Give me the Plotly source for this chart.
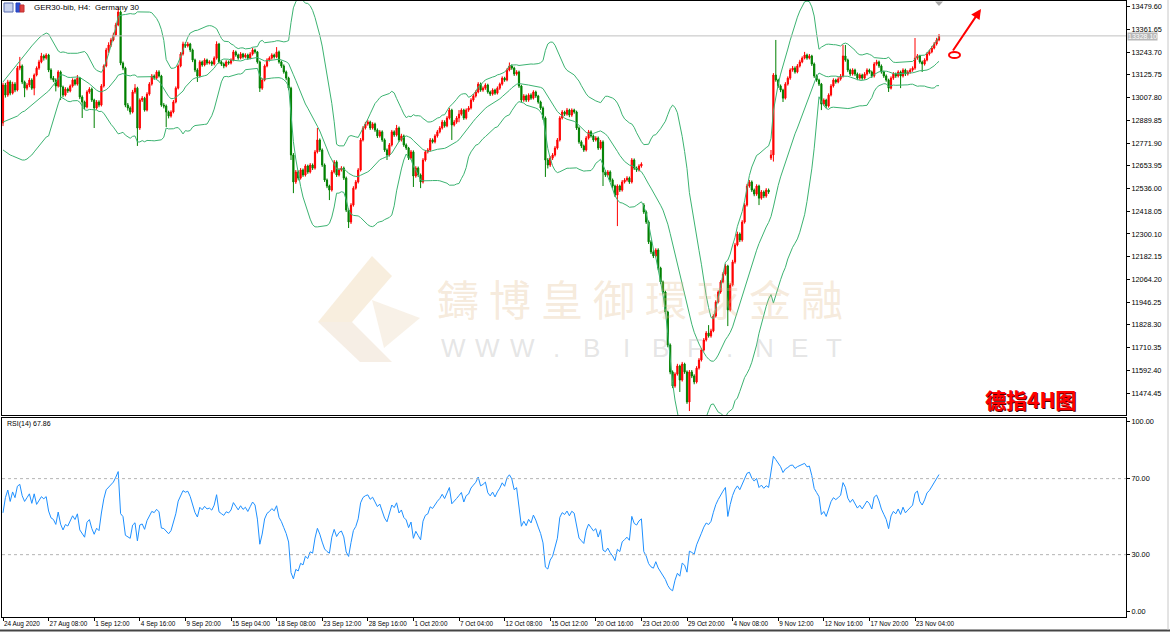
import numpy as np
import pandas as pd
import plotly.graph_objects as go

# ---------------- data (GER30 H4 candles) ----------------
opens = [
12876,13073,13021,13089,13031,13078,13047,13161,13172,13089,
13057,13073,13099,13057,13125,13161,13193,13224,13213,13229,
13151,13109,13099,13068,13141,13063,13021,13052,13042,13068,
13099,13078,13109,13011,12985,12959,13037,13052,12995,12954,
12985,12969,13068,13172,13255,13281,13307,13333,13385,13452,
13187,13161,12969,12954,12933,13037,13057,12850,12995,13005,
12943,13026,13078,13120,13109,13141,13120,12969,12964,12933,
12912,12933,12985,13057,13172,13234,13286,13276,13286,13255,
13203,13151,13120,13193,13177,13203,13187,13193,13182,13213,
13286,13193,13182,13172,13193,13187,13203,13245,13229,13213,
13234,13219,13229,13213,13234,13255,13245,13193,13057,13099,
13172,13203,13213,13229,13219,13245,13193,13172,13141,13109,
13057,12710,12570,12622,12590,12632,12606,12653,12622,12658,
12642,12726,12788,12736,12658,12580,12549,12528,12622,12674,
12606,12632,12642,12590,12424,12362,12450,12538,12570,12632,
12788,12850,12871,12881,12850,12871,12840,12809,12830,12788,
12736,12710,12762,12830,12814,12850,12788,12809,12762,12746,
12694,12726,12601,12642,12606,12570,12684,12726,12736,12788,
12778,12809,12830,12850,12881,12861,12902,12943,12866,12881,
12902,12922,12943,12902,12943,12954,12995,13016,13037,13078,
13047,13057,13073,13037,13026,13047,13031,13057,13078,13109,
13099,13151,13172,13161,13130,13141,13068,12995,13016,12995,
13021,13005,13037,13016,12985,12954,12902,12684,12658,12694,
12710,12746,12788,12902,12933,12922,12943,12917,12943,12933,
12850,12778,12757,12736,12798,12830,12809,12788,12798,12746,
12778,12622,12606,12622,12580,12549,12502,12549,12528,12570,
12580,12590,12570,12684,12642,12632,12653,12450,12414,12362,
12259,12207,12186,12217,12123,12051,11999,11895,11724,11584,
11511,11573,11615,11542,11625,11584,11428,11584,11563,11532,
11604,11646,11698,11750,11786,11771,11797,11874,11947,11999,
12051,12092,12134,11906,12035,12155,12243,12300,12269,12362,
12450,12549,12570,12528,12507,12549,12486,12518,12497,12528,
12694,12710,13125,13099,13068,13047,13005,13078,13109,13151,
13161,13141,13172,13193,13213,13229,13213,13224,13182,13120,
13099,13078,12974,12995,12964,13021,13068,13099,13089,13104,
13120,13224,13203,13151,13130,13151,13130,13109,13125,13109,
13130,13151,13141,13120,13182,13193,13172,13141,13120,13099,
13057,13109,13130,13120,13141,13120,13151,13130,13141,13151,
13161,13213,13224,13193,13182,13203,13234,13245,13265,13286,13307]

highs = [
13085,13084,13100,13098,13090,13088,13172,13219,13180,13096,
13084,13110,13108,13133,13170,13204,13240,13232,13238,13235,
13160,13120,13108,13150,13148,13070,13062,13060,13076,13108,
13106,13125,13115,13020,12992,13046,13062,13060,13002,12995,
12994,13078,13180,13266,13295,13318,13345,13396,13473,13460,
13195,13168,12980,12962,13048,13078,13064,13004,13016,13012,
13036,13088,13130,13128,13150,13150,13126,12980,12972,12940,
12942,12995,13066,13180,13244,13298,13296,13297,13292,13262,
13210,13160,13202,13200,13212,13210,13202,13200,13222,13300,
13292,13200,13190,13202,13200,13212,13255,13252,13236,13244,
13240,13238,13236,13244,13266,13262,13250,13200,13108,13180,
13212,13222,13238,13236,13270,13252,13200,13180,13148,13116,
13064,12720,12632,12630,12642,12640,12662,12660,12668,12666,
12736,12850,12796,12744,12666,12588,12556,12632,12684,12682,
12642,12652,12650,12598,12432,12460,12548,12580,12642,12798,
12860,12882,12892,12888,12880,12878,12848,12840,12838,12796,
12744,12772,12840,12838,12866,12858,12820,12816,12770,12752,
12736,12734,12652,12650,12614,12694,12736,12746,12798,12796,
12818,12840,12860,12892,12890,12912,12954,12950,12892,12912,
12943,12952,12950,12952,12964,13005,13026,13046,13088,13086,
13066,13082,13080,13044,13056,13054,13066,13086,13118,13116,
13160,13190,13180,13168,13150,13148,13074,13026,13024,13030,
13030,13046,13044,13022,12992,12962,12910,12694,12704,12720,
12756,12798,12912,12943,12940,12954,12950,12952,12950,12940,
12858,12786,12764,12808,12840,12838,12816,12808,12806,12788,
12786,12630,12632,12630,12588,12556,12558,12556,12580,12590,
12600,12598,12694,12692,12650,12662,12672,12460,12422,12370,
12268,12216,12226,12226,12130,12058,12006,11902,11732,11592,
11582,11626,11622,11636,11632,11592,11594,11594,11572,11614,
11656,11708,11760,11796,11827,11808,11884,11956,12008,12060,
12102,12144,12140,12046,12166,12254,12312,12308,12372,12460,
12560,12580,12578,12536,12558,12556,12528,12526,12538,12536,
12736,13135,13307,13106,13076,13054,13088,13118,13160,13172,
13170,13182,13204,13222,13245,13236,13234,13230,13190,13128,
13106,13084,13004,13002,13030,13078,13108,13106,13114,13130,
13281,13281,13210,13158,13160,13158,13138,13134,13132,13140,
13160,13158,13148,13192,13204,13200,13180,13148,13128,13106,
13118,13140,13138,13150,13148,13160,13158,13150,13160,13170,
13317,13234,13230,13200,13212,13244,13256,13276,13296,13318,13338]

lows = [
12860,13008,13012,13020,13024,13036,13040,13150,13078,13010,
13046,13062,13048,13020,13118,13152,13186,13200,13205,13140,
13100,13088,13040,13060,12995,13010,13014,13032,13035,13060,
13070,13070,13000,12902,12948,12952,13028,12985,12850,12945,
12958,12962,13060,13165,13240,13270,13300,13326,13378,13176,
13150,12958,12940,12920,12926,13028,12757,12840,12985,12935,
12936,13018,13070,13100,13102,13112,12960,12952,12855,12900,
12904,12926,12978,13050,13165,13226,13266,13268,13244,13192,
13140,13089,13112,13168,13170,13178,13180,13172,13175,13205,
13184,13172,13160,13165,13178,13180,13196,13220,13204,13206,
13210,13212,13204,13206,13226,13236,13184,13037,13048,13092,
13165,13195,13205,13210,13212,13184,13162,13132,13098,13046,
12684,12512,12560,12578,12582,12596,12598,12612,12614,12632,
12634,12718,12726,12648,12570,12538,12476,12520,12614,12596,
12598,12624,12580,12414,12331,12352,12442,12530,12562,12624,
12780,12842,12862,12840,12842,12830,12798,12800,12778,12726,
12684,12702,12754,12804,12806,12778,12780,12752,12736,12684,
12686,12544,12592,12596,12538,12562,12676,12718,12728,12770,
12770,12800,12822,12842,12852,12854,12894,12788,12858,12872,
12880,12914,12892,12894,12934,12946,12986,13008,13030,13038,
13038,13048,13028,13016,13018,13022,13024,13048,13070,13090,
13092,13144,13152,13120,13122,13058,12985,12986,12985,12986,
12996,12998,13006,12976,12944,12892,12596,12640,12648,12684,
12702,12738,12780,12894,12912,12914,12906,12908,12924,12840,
12768,12746,12726,12728,12790,12800,12778,12780,12736,12738,
12549,12596,12598,12570,12538,12492,12341,12518,12520,12562,
12572,12560,12562,12632,12622,12624,12644,12404,12352,12248,
12196,12175,12178,12112,12040,11988,11884,11712,11572,11500,
11502,11565,11480,11534,11574,11418,11381,11552,11520,11524,
11596,11638,11690,11742,11762,11762,11790,11866,11940,11990,
12044,12084,11822,11898,12028,12146,12236,12258,12260,12354,
12442,12540,12518,12496,12498,12450,12478,12486,12488,12508,
12684,12676,13090,13058,13036,12985,12998,13070,13100,13142,
13132,13134,13164,13186,13206,13204,13206,13172,13110,13090,
13068,12943,12966,12954,12956,13014,13060,13080,13082,13096,
13112,13194,13140,13120,13122,13120,13098,13100,13100,13102,
13122,13132,13110,13112,13174,13162,13132,13110,13090,13037,
13050,13100,13110,13112,13057,13112,13120,13122,13132,13142,
13152,13204,13184,13141,13174,13196,13226,13238,13258,13278,13300]

closes = [
13073,13021,13089,13031,13078,13047,13161,13172,13089,13057,
13073,13099,13057,13125,13161,13193,13224,13213,13229,13151,
13109,13099,13068,13141,13063,13021,13052,13042,13068,13099,
13078,13109,13011,12985,12959,13037,13052,12995,12954,12985,
12969,13068,13172,13255,13281,13307,13333,13385,13452,13187,
13161,12969,12954,12933,13037,13057,12850,12995,13005,12943,
13026,13078,13120,13109,13141,13120,12969,12964,12933,12912,
12933,12985,13057,13172,13234,13286,13276,13286,13255,13203,
13151,13120,13193,13177,13203,13187,13193,13182,13213,13286,
13193,13182,13172,13193,13187,13203,13245,13229,13213,13234,
13219,13229,13213,13234,13255,13245,13193,13057,13099,13172,
13203,13213,13229,13219,13245,13193,13172,13141,13109,13057,
12710,12570,12622,12590,12632,12606,12653,12622,12658,12642,
12726,12788,12736,12658,12580,12549,12528,12622,12674,12606,
12632,12642,12590,12424,12362,12450,12538,12570,12632,12788,
12850,12871,12881,12850,12871,12840,12809,12830,12788,12736,
12710,12762,12830,12814,12850,12788,12809,12762,12746,12694,
12726,12601,12642,12606,12570,12684,12726,12736,12788,12778,
12809,12830,12850,12881,12861,12902,12943,12866,12881,12902,
12922,12943,12902,12943,12954,12995,13016,13037,13078,13047,
13057,13073,13037,13026,13047,13031,13057,13078,13109,13099,
13151,13172,13161,13130,13141,13068,12995,13016,12995,13021,
13005,13037,13016,12985,12954,12902,12684,12658,12694,12710,
12746,12788,12902,12933,12922,12943,12917,12943,12933,12850,
12778,12757,12736,12798,12830,12809,12788,12798,12746,12778,
12622,12606,12622,12580,12549,12502,12549,12528,12570,12580,
12590,12570,12684,12642,12632,12653,12663,12414,12362,12259,
12207,12186,12217,12123,12051,11999,11895,11724,11584,11511,
11573,11615,11542,11625,11584,11428,11584,11563,11532,11604,
11646,11698,11750,11786,11771,11797,11874,11947,11999,12051,
12092,12134,11906,12035,12155,12243,12300,12269,12362,12450,
12549,12570,12528,12507,12549,12486,12518,12497,12528,12518,
12710,13125,13099,13068,13047,13005,13078,13109,13151,13161,
13141,13172,13193,13213,13229,13213,13224,13182,13120,13099,
13078,12974,12995,12964,13021,13068,13099,13089,13104,13120,
13224,13203,13151,13130,13151,13130,13109,13125,13109,13130,
13151,13141,13120,13182,13193,13172,13141,13120,13099,13057,
13109,13130,13120,13141,13120,13151,13130,13141,13151,13161,
13213,13224,13193,13182,13203,13234,13245,13265,13286,13307,13328.10]

# indicator values of the first bars (their history lies left of the chart)
bb_upper_head = [13089, 13104, 13120, 13136, 13151, 13167, 13182, 13198, 13213, 13229,
                 13245, 13260, 13276, 13291, 13302, 13317, 13328, 13338, 13343, 13338,
                 13317, 13291, 13270, 13250]
bb_middle_head = [12881, 12886, 12892, 12897, 12902, 12907, 12912, 12923, 12933, 12938,
                  12949, 12959, 12969, 12980, 12990, 13001, 13011, 13021, 13032, 13042,
                  13058, 13073, 13089, 13104]
bb_lower_head = [12736, 12726, 12720, 12710, 12705, 12700, 12694, 12689, 12684, 12684,
                 12689, 12700, 12710, 12726, 12741, 12757, 12772, 12788, 12803, 12809,
                 12850, 12902, 12943, 12975]
rsi_head = [52, 60, 64, 58, 63, 60, 66, 67, 61, 58, 60, 62, 57, 62]

price_ticks = [13479.60, 13361.65, 13243.70, 13125.75, 13007.80, 12889.85,
               12771.90, 12653.95, 12536.00, 12418.05, 12300.10, 12182.15,
               12064.20, 11946.25, 11828.30, 11710.35, 11592.40, 11474.45]
rsi_ticks = [100, 70, 30, 0]
date_tick_bars = [0, 19, 38, 57, 76, 95, 114, 133, 152, 171, 190, 209, 228,
                  247, 266, 285, 304, 323, 342, 361, 380]
date_tick_text = ["24 Aug 2020", "27 Aug 08:00", "1 Sep 12:00", "4 Sep 16:00",
                  "9 Sep 20:00", "15 Sep 04:00", "18 Sep 08:00", "23 Sep 12:00",
                  "28 Sep 16:00", "1 Oct 20:00", "7 Oct 04:00", "12 Oct 08:00",
                  "15 Oct 12:00", "20 Oct 16:00", "23 Oct 20:00", "29 Oct 20:00",
                  "4 Nov 08:00", "9 Nov 12:00", "12 Nov 16:00", "17 Nov 20:00",
                  "23 Nov 04:00"]
last_price = 13328.10
bb_period, bb_dev = 20, 2
rsi_period = 14

# ---------------- indicators ----------------
bars = np.arange(len(closes))
cs = pd.Series(closes, dtype=float)
bb_mid = cs.rolling(bb_period).mean()
bb_sd = cs.rolling(bb_period).std(ddof=0)
bb_up = bb_mid + bb_dev * bb_sd
bb_lo = bb_mid - bb_dev * bb_sd
n_head = len(bb_middle_head)
bb_up.iloc[:n_head] = bb_upper_head
bb_mid.iloc[:n_head] = bb_middle_head
bb_lo.iloc[:n_head] = bb_lower_head

c = np.array(closes, dtype=float)
d = np.diff(c)
gain = np.where(d > 0, d, 0.0)
loss = np.where(d < 0, -d, 0.0)
rsi = np.full(len(c), np.nan)
ag = gain[:rsi_period].mean()
al = loss[:rsi_period].mean()
rsi[rsi_period] = 100 - 100 / (1 + ag / al)
for i in range(rsi_period + 1, len(c)):
    ag = (ag * (rsi_period - 1) + gain[i - 1]) / rsi_period
    al = (al * (rsi_period - 1) + loss[i - 1]) / rsi_period
    rsi[i] = 100 - 100 / (1 + ag / al)
rsi[:len(rsi_head)] = rsi_head

# ---------------- figure ----------------
W, H = 1170, 633
ML, MR, MT, MB = 2, 44, 1, 16
PW, PH = W - ML - MR, H - MT - MB


def px(x):
    return (x - ML) / PW


def py(y):
    return (H - MB - y) / PH


main_dom = [py(415), 1.0]
rsi_dom = [0.0, py(418)]
YFONT = dict(family="Liberation Sans, Arial, sans-serif", size=7.3, color="#000000")
XFONT = dict(family="Liberation Sans, Arial, sans-serif", size=6.4, color="#000000")

fig = go.Figure()

fig.add_trace(go.Candlestick(
    x=bars, open=opens, high=highs, low=lows, close=closes,
    increasing=dict(line=dict(color="#ff0000", width=1), fillcolor="#ff0000"),
    decreasing=dict(line=dict(color="#008000", width=1), fillcolor="#008000"),
    whiskerwidth=0, hoverinfo="skip", showlegend=False,
    xaxis="x", yaxis="y"))

for band in (bb_up, bb_mid, bb_lo):
    fig.add_trace(go.Scatter(x=bars, y=band, mode="lines",
                             line=dict(color="#3cb371", width=1),
                             hoverinfo="skip", showlegend=False,
                             xaxis="x", yaxis="y"))

fig.add_trace(go.Scatter(x=bars, y=rsi, mode="lines",
                         line=dict(color="#1e90ff", width=1),
                         hoverinfo="skip", showlegend=False,
                         xaxis="x2", yaxis="y2"))

xrange = [-1.0 / 2.4, -1.0 / 2.4 + PW / 2.4]
ymain = [11360.5, 13509.2]
yrsi = [-2.8, 101.9]

fig.update_layout(
    template="none",
    width=W, height=H,
    margin=dict(l=ML, r=MR, t=MT, b=MB, pad=0),
    paper_bgcolor="white", plot_bgcolor="white",
    showlegend=False,
    xaxis=dict(domain=[0, 1], range=xrange, anchor="y", showticklabels=False,
               ticks="", showgrid=False, zeroline=False, showline=True,
               mirror=True, linecolor="#000000", linewidth=1, automargin=False,
               rangeslider=dict(visible=False)),
    yaxis=dict(domain=main_dom, range=ymain, anchor="x", side="right",
               tickmode="array", tickvals=price_ticks,
               ticktext=[f"{v:.2f}" for v in price_ticks],
               ticks="outside", ticklen=3, tickcolor="#000000", tickwidth=1,
               tickfont=YFONT, showgrid=False, zeroline=False, automargin=False,
               showline=True, mirror=True, linecolor="#000000", linewidth=1),
    xaxis2=dict(domain=[0, 1], range=xrange, anchor="y2",
                tickmode="array", tickvals=date_tick_bars, ticktext=date_tick_text,
                ticks="outside", ticklen=3, tickcolor="#000000", tickwidth=1,
                ticklabelposition="outside right", tickangle=0, automargin=False,
                tickfont=XFONT, showgrid=False, zeroline=False, showline=True,
                mirror=True, linecolor="#000000", linewidth=1),
    yaxis2=dict(domain=rsi_dom, range=yrsi, anchor="x2", side="right",
                tickmode="array", tickvals=rsi_ticks,
                ticktext=[f"{v:.2f}" for v in rsi_ticks],
                ticks="outside", ticklen=3, tickcolor="#000000", tickwidth=1,
                tickfont=YFONT, showgrid=False, zeroline=False, automargin=False,
                showline=True, mirror=True, linecolor="#000000", linewidth=1),
)

shapes = []
shapes.append(dict(type="line", xref="paper", yref="y", x0=0, x1=1,
                   y0=last_price, y1=last_price,
                   line=dict(color="#c0c0c0", width=1)))
for lv in (70, 30):
    shapes.append(dict(type="line", xref="paper", yref="y2", x0=0, x1=1,
                       y0=lv, y1=lv, line=dict(color="#b4b4b4", width=1, dash="dot")))
shapes.append(dict(type="line", xref="paper", yref="paper", x0=px(0), x1=px(1170),
                   y0=py(630.5), y1=py(630.5), line=dict(color="#444444", width=2)))
shapes.append(dict(type="line", xref="paper", yref="paper", x0=px(1168), x1=px(1168),
                   y0=py(0), y1=py(630), line=dict(color="#c8c8c8", width=1)))
shapes.append(dict(type="rect", xref="paper", yref="paper", x0=px(4), x1=px(13),
                   y0=py(12), y1=py(3), line=dict(color="#5a6fb0", width=1),
                   fillcolor="#c9d3ef"))
shapes.append(dict(type="rect", xref="paper", yref="paper", x0=px(16), x1=px(20),
                   y0=py(12), y1=py(3), line=dict(color="#2040c0", width=1),
                   fillcolor="#3050d0"))
shapes.append(dict(type="rect", xref="paper", yref="paper", x0=px(20), x1=px(24),
                   y0=py(12), y1=py(5), line=dict(color="#c03030", width=1),
                   fillcolor="#e04040"))
shapes.append(dict(type="circle", xref="paper", yref="paper", x0=px(949), x1=px(960),
                   y0=py(58), y1=py(52), line=dict(color="#ff0000", width=2)))


def path(pts):
    return "M " + " L ".join(f"{px(a):.5f},{py(b):.5f}" for a, b in pts) + " Z"


# chart-shift marker
shapes.append(dict(type="path", xref="paper", yref="paper",
                   path=path([(935, 1.5), (943, 1.5), (939, 6)]),
                   fillcolor="#a8a8a8", line=dict(width=0)))
# watermark logo (approximate)
shapes.append(dict(type="path", xref="paper", yref="paper",
                   path=path([(318, 322), (372, 256), (392, 276), (352, 322)]),
                   fillcolor="rgba(236,205,160,0.35)", line=dict(width=0), layer="below"))
shapes.append(dict(type="path", xref="paper", yref="paper",
                   path=path([(318, 322), (352, 322), (392, 362), (360, 362)]),
                   fillcolor="rgba(226,200,170,0.30)", line=dict(width=0), layer="below"))
shapes.append(dict(type="path", xref="paper", yref="paper",
                   path=path([(372, 300), (420, 318), (384, 348)]),
                   fillcolor="rgba(236,215,185,0.35)", line=dict(width=0), layer="below"))
fig.update_layout(shapes=shapes)

ann = []
ann.append(dict(xref="paper", yref="paper", x=px(32), y=py(8), xanchor="left",
                yanchor="middle", showarrow=False, text="GER30-bib, H4:  Germany 30",
                font=dict(family="Liberation Sans, Arial", size=8, color="#000000")))
ann.append(dict(xref="paper", yref="paper", x=px(5), y=py(424), xanchor="left",
                yanchor="middle", showarrow=False, text="RSI(14) 67.86",
                font=dict(family="Liberation Sans, Arial", size=7, color="#000000")))
ann.append(dict(xref="paper", yref="y", x=1, y=last_price, xanchor="left",
                yanchor="middle", xshift=1, yshift=-1, showarrow=False, text="13328.10",
                bgcolor="#b8b8b8", borderpad=0,
                font=dict(family="Liberation Sans, Arial", size=7, color="#ffffff")))
wm_chars = "鑄博皇御環球金融"
for k, ch in enumerate(wm_chars):
    ann.append(dict(xref="paper", yref="paper", x=px(458 + 52.0 * k), y=py(298),
                    xanchor="center", yanchor="middle",
                    showarrow=False, text=ch,
                    font=dict(family="Noto Sans CJK TC", size=42,
                              color="rgba(225,185,135,0.30)")))
wm_url = "WWW.BIBF.NET"
for k, ch in enumerate(wm_url):
    ann.append(dict(xref="paper", yref="paper", x=px(453 + 34.6 * k), y=py(348),
                    xanchor="center", yanchor="middle",
                    showarrow=False, text=ch,
                    font=dict(family="Liberation Sans, Arial", size=26,
                              color="rgba(190,190,190,0.40)")))
ann.append(dict(xref="paper", yref="paper", x=px(981), y=py(9), ax=-29, ay=43,
                showarrow=True, arrowhead=2, arrowsize=1, arrowwidth=2,
                arrowcolor="#ff0000", text=""))
ann.append(dict(xref="paper", yref="paper", x=px(1030), y=py(399), showarrow=False,
                xanchor="center", yanchor="middle",
                text="<b>德指4H图</b>",
                font=dict(family="Noto Sans CJK SC", size=21, color="#ff0000",
                          shadow="1px 1px 0px #500000")))
fig.update_layout(annotations=ann)

fig.write_html("out.html")
